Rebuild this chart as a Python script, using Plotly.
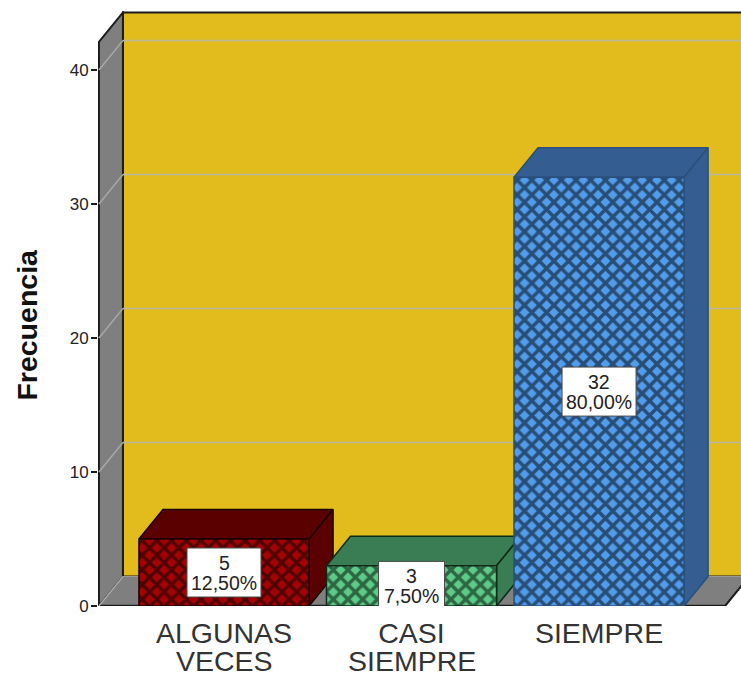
import plotly.graph_objects as go

# Survey response counts
first_lines = ["ALGUNAS", "CASI", "SIEMPRE"]
second_lines = ["VECES", "SIEMPRE", ""]
positions = [0, 1, 2]
frequencies = [5, 3, 32]
percent_labels = ["12,50%", "7,50%", "80,00%"]
y_ticks = [0, 10, 20, 30, 40]

face_colors = ["#A50303", "#5CCB87", "#529CEC"]
shade_colors = ["#5A0000", "#3A7D54", "#345E91"]
edge_colors = ["#1A0000", "#0E2A18", "#2A4F7C"]

WALL = "#E1BC1C"
SIDE = "#7F7F7F"
GRID = "#BDB9A0"
FONT = "Liberation Sans"

# Pseudo-3D depth expressed in axis units, and chart extents
DEPTH_X = 0.128
DEPTH_Y = 2.2
BAR_WIDTH = 0.907
X_MIN, X_MAX = -0.672, 2.757
Y_MAX = 44.4
WALL_LEFT = -0.667
WALL_TOP = 42.09
FLOOR_RIGHT = 2.672


def polygon(points, fill, line, width=1.5):
    xs = [p[0] for p in points]
    ys = [p[1] for p in points]
    path = "M" + "L".join(f"{x},{y}" for x, y in zip(xs, ys)) + "Z"
    return dict(type="path", path=path, xref="x", yref="y", layer="below",
                fillcolor=fill, line=dict(color=line, width=width))


def segment(x0, y0, x1, y1, color, width=1.5, layer="below"):
    return dict(type="line", x0=x0, y0=y0, x1=x1, y1=y1, xref="x", yref="y",
                layer=layer, line=dict(color=color, width=width))


back_x = WALL_LEFT + DEPTH_X
shapes = [
    # back wall, left wall and floor
    polygon([(back_x, DEPTH_Y), (X_MAX + 1, DEPTH_Y), (X_MAX + 1, WALL_TOP + DEPTH_Y),
             (back_x, WALL_TOP + DEPTH_Y)], WALL, "#1c1c1c", 2),
    polygon([(WALL_LEFT, 0), (back_x, DEPTH_Y), (back_x, WALL_TOP + DEPTH_Y),
             (WALL_LEFT, WALL_TOP)], SIDE, "#1c1c1c", 2),
    polygon([(WALL_LEFT, 0), (back_x, DEPTH_Y), (FLOOR_RIGHT + DEPTH_X, DEPTH_Y),
             (FLOOR_RIGHT, 0)], SIDE, "#9a9a9a", 1),
    segment(WALL_LEFT, 0, FLOOR_RIGHT, 0, "#1c1c1c", 2.5),
    segment(FLOOR_RIGHT, 0, FLOOR_RIGHT + DEPTH_X, DEPTH_Y, "#1c1c1c", 2),
]

# Gridlines follow the back wall and fold down the left wall
for tick in y_ticks:
    if tick:
        shapes.append(segment(back_x, tick + DEPTH_Y, X_MAX + 1, tick + DEPTH_Y, GRID))
    shapes.append(segment(WALL_LEFT, tick, back_x, tick + DEPTH_Y, "#a8a8a8"))

fig = go.Figure()
annotations = []

for i, (pos, value) in enumerate(zip(positions, frequencies)):
    left = pos - BAR_WIDTH / 2
    right = pos + BAR_WIDTH / 2

    # top and right faces sit behind the hatched front face
    top = [(left, value), (right, value), (right + DEPTH_X, value + DEPTH_Y),
           (left + DEPTH_X, value + DEPTH_Y), (left, value)]
    side = [(right, 0), (right + DEPTH_X, DEPTH_Y), (right + DEPTH_X, value + DEPTH_Y),
            (right, value), (right, 0)]
    for face in (top, side):
        fig.add_trace(go.Scatter(
            x=[p[0] for p in face], y=[p[1] for p in face],
            mode="lines", fill="toself", fillcolor=shade_colors[i],
            line=dict(color=edge_colors[i], width=1.5),
            hoverinfo="skip", showlegend=False, zorder=2 * i + 1,
        ))

    fig.add_trace(go.Bar(
        x=[pos], y=[value], width=BAR_WIDTH, name=first_lines[i],
        marker=dict(
            color=face_colors[i],
            line=dict(color=edge_colors[i], width=1.5),
            pattern=dict(shape="x", size=10.4, solidity=0.55,
                         fgcolor="#000000", bgcolor=face_colors[i]),
        ),
        showlegend=False, zorder=2 * i + 2,
    ))

    # value box centred on the bar
    half_w = 37 if i != 1 else 33
    shapes.append(dict(
        type="rect", xref="x", yref="y", layer="above",
        xsizemode="pixel", ysizemode="pixel",
        xanchor=pos, yanchor=value / 2,
        x0=-half_w, x1=half_w, y0=-24.5, y1=24.5,
        fillcolor="white", line=dict(color="#4a4a4a", width=1),
    ))
    label_font = dict(family=FONT, size=19.5, color="#222222")
    for text, shift in ((str(value), 10), (percent_labels[i], -10)):
        annotations.append(dict(x=pos, y=value / 2, xref="x", yref="y", text=text,
                                showarrow=False, yshift=shift, font=label_font))

    # second row of the category label
    if second_lines[i]:
        annotations.append(dict(x=pos, y=0, xref="x", yref="y", text=second_lines[i],
                                showarrow=False, yanchor="middle", yshift=-55, height=26,
                                font=dict(family=FONT, size=28.5, color="#333333")))

# Value-axis title, centred on the lower part of the scale
annotations.append(dict(x=0, y=21, xref="paper", yref="y", xanchor="center", yanchor="middle",
                        xshift=-71, text="<b>Frecuencia</b>", textangle=-90, showarrow=False,
                        font=dict(family=FONT, size=28.5, color="#111111")))

fig.update_layout(
    width=741, height=675,
    margin=dict(l=98, r=0, t=11, b=69, pad=0),
    paper_bgcolor="white", plot_bgcolor="white",
    barmode="overlay", showlegend=False,
    shapes=shapes, annotations=annotations,
    xaxis=dict(
        range=[X_MIN, X_MAX], tickmode="array", tickvals=positions, ticktext=first_lines,
        showgrid=False, zeroline=False, showline=False, ticks="", ticklabelstandoff=7,
        tickfont=dict(family=FONT, size=28.5, color="#333333"),
    ),
    yaxis=dict(
        range=[0, Y_MAX], tickmode="array", tickvals=y_ticks,
        showgrid=False, zeroline=False, showline=False,
        ticks="outside", ticklen=6, tickcolor="#1c1c1c", tickwidth=1.5,
        ticklabelstandoff=-1,
        tickfont=dict(family=FONT, size=17, color="#222222"),
    ),
)

fig.write_html("out.html")
